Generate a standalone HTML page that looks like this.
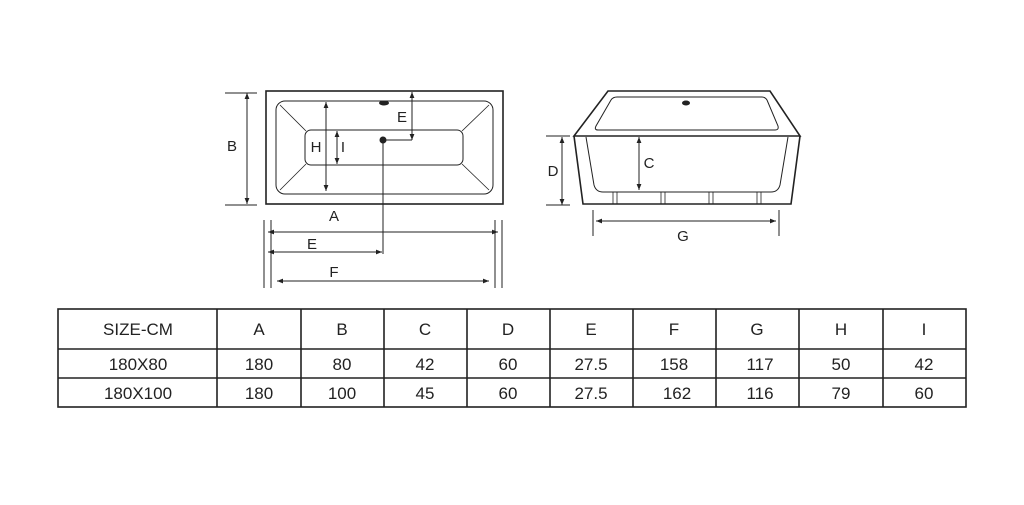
<!DOCTYPE html>
<html><head><style>html,body{margin:0;padding:0;background:#fff}</style></head>
<body>
<svg width="1024" height="500" viewBox="0 0 1024 500" xmlns="http://www.w3.org/2000/svg" font-family="Liberation Sans, sans-serif">
<defs>
<marker id="a" viewBox="0 0 10 10" refX="10" refY="5" markerWidth="6" markerHeight="6" orient="auto-start-reverse"><path d="M0,1 L10,5 L0,9 z" fill="#222"/></marker>
</defs>
<g stroke="#222" fill="none">
<rect x="266" y="91" width="237" height="113" stroke-width="1.6"/>
<rect x="276" y="101" width="217" height="93" rx="9" stroke-width="1"/>
<rect x="305" y="130" width="158" height="35" rx="6" stroke-width="1"/>
<line x1="280" y1="105" x2="306" y2="131" stroke-width="0.8"/>
<line x1="489" y1="105" x2="462" y2="131" stroke-width="0.8"/>
<line x1="280" y1="190" x2="306" y2="164" stroke-width="0.8"/>
<line x1="489" y1="190" x2="462" y2="164" stroke-width="0.8"/>
<g stroke-width="1" marker-start="url(#a)" marker-end="url(#a)">
<line x1="247" y1="93" x2="247" y2="204"/>
<line x1="326" y1="102" x2="326" y2="191"/>
<line x1="337" y1="131" x2="337" y2="164"/>
<line x1="268" y1="232" x2="498" y2="232"/>
<line x1="268" y1="252" x2="382" y2="252"/>
<line x1="277" y1="281" x2="489" y2="281"/>
</g>
<line x1="412" y1="92" x2="412" y2="140" stroke-width="1" marker-start="url(#a)" marker-end="url(#a)"/>
<line x1="383" y1="140" x2="412" y2="140" stroke-width="1"/>
<line x1="383" y1="140" x2="383" y2="254" stroke-width="1"/>
<line x1="225" y1="93" x2="257" y2="93" stroke-width="1"/>
<line x1="225" y1="205" x2="257" y2="205" stroke-width="1"/>
<line x1="264" y1="220" x2="264" y2="288" stroke-width="1"/>
<line x1="271" y1="220" x2="271" y2="288" stroke-width="1"/>
<line x1="495" y1="220" x2="495" y2="288" stroke-width="1"/>
<line x1="502" y1="220" x2="502" y2="288" stroke-width="1"/>
<path d="M608,91 L770,91 L800,136 L574,136 Z" stroke-width="1.6"/>
<path d="M617,97 L762,97 Q765,97 767,100 L778,126 Q779,130 775,130 L598,130 Q594,130 596,126 L611,100 Q613,97 617,97 Z" stroke-width="1"/>
<path d="M574,136 L583,204 L791,204 L800,136" stroke-width="1.6"/>
<path d="M586,137 L594,185 Q596,192 603,192 L771,192 Q778,192 780,185 L788,137" stroke-width="1"/>
<g stroke-width="0.8">
<line x1="613" y1="192" x2="613" y2="204"/><line x1="617" y1="192" x2="617" y2="204"/>
<line x1="661" y1="192" x2="661" y2="204"/><line x1="665" y1="192" x2="665" y2="204"/>
<line x1="709" y1="192" x2="709" y2="204"/><line x1="713" y1="192" x2="713" y2="204"/>
<line x1="757" y1="192" x2="757" y2="204"/><line x1="761" y1="192" x2="761" y2="204"/>
</g>
<g stroke-width="1" marker-start="url(#a)" marker-end="url(#a)">
<line x1="639" y1="137" x2="639" y2="190"/>
<line x1="562" y1="137" x2="562" y2="205"/>
<line x1="596" y1="221" x2="776" y2="221"/>
</g>
<line x1="546" y1="136" x2="570" y2="136" stroke-width="1"/>
<line x1="546" y1="205" x2="570" y2="205" stroke-width="1"/>
<line x1="593" y1="210" x2="593" y2="236" stroke-width="1"/>
<line x1="779" y1="210" x2="779" y2="236" stroke-width="1"/>
<rect x="58" y="309" width="908" height="98" stroke-width="1.6"/>
<line x1="58" y1="349" x2="966" y2="349" stroke-width="1.6"/>
<line x1="58" y1="378" x2="966" y2="378" stroke-width="1.6"/>
<g stroke-width="1.6">
<line x1="217" y1="309" x2="217" y2="407"/><line x1="301" y1="309" x2="301" y2="407"/>
<line x1="384" y1="309" x2="384" y2="407"/><line x1="467" y1="309" x2="467" y2="407"/>
<line x1="550" y1="309" x2="550" y2="407"/><line x1="633" y1="309" x2="633" y2="407"/>
<line x1="716" y1="309" x2="716" y2="407"/><line x1="799" y1="309" x2="799" y2="407"/>
<line x1="883" y1="309" x2="883" y2="407"/>
</g>
</g>
<ellipse cx="384" cy="103" rx="5" ry="2.5" fill="#222"/>
<circle cx="383" cy="140" r="3.5" fill="#222"/>
<ellipse cx="686" cy="103" rx="4" ry="2.5" fill="#222"/>
<g fill="#222" font-size="15" text-anchor="middle">
<text x="232" y="151">B</text>
<text x="316" y="152">H</text>
<text x="343" y="152">I</text>
<text x="402" y="122">E</text>
<text x="334" y="221">A</text>
<text x="312" y="249">E</text>
<text x="334" y="277">F</text>
<text x="553" y="176">D</text>
<text x="649" y="168">C</text>
<text x="683" y="241">G</text>
</g>
<g fill="#222" font-size="17" text-anchor="middle">
<text x="138" y="335">SIZE-CM</text><text x="259" y="335">A</text><text x="342" y="335">B</text><text x="425" y="335">C</text><text x="508" y="335">D</text><text x="591" y="335">E</text><text x="674" y="335">F</text><text x="757" y="335">G</text><text x="841" y="335">H</text><text x="924" y="335">I</text>
<text x="138" y="370">180X80</text><text x="259" y="370">180</text><text x="342" y="370">80</text><text x="425" y="370">42</text><text x="508" y="370">60</text><text x="591" y="370">27.5</text><text x="674" y="370">158</text><text x="760" y="370">117</text><text x="841" y="370">50</text><text x="924" y="370">42</text>
<text x="138" y="399">180X100</text><text x="259" y="399">180</text><text x="342" y="399">100</text><text x="425" y="399">45</text><text x="508" y="399">60</text><text x="591" y="399">27.5</text><text x="677" y="399">162</text><text x="760" y="399">116</text><text x="841" y="399">79</text><text x="924" y="399">60</text>
</g>
</svg>
</body></html>
